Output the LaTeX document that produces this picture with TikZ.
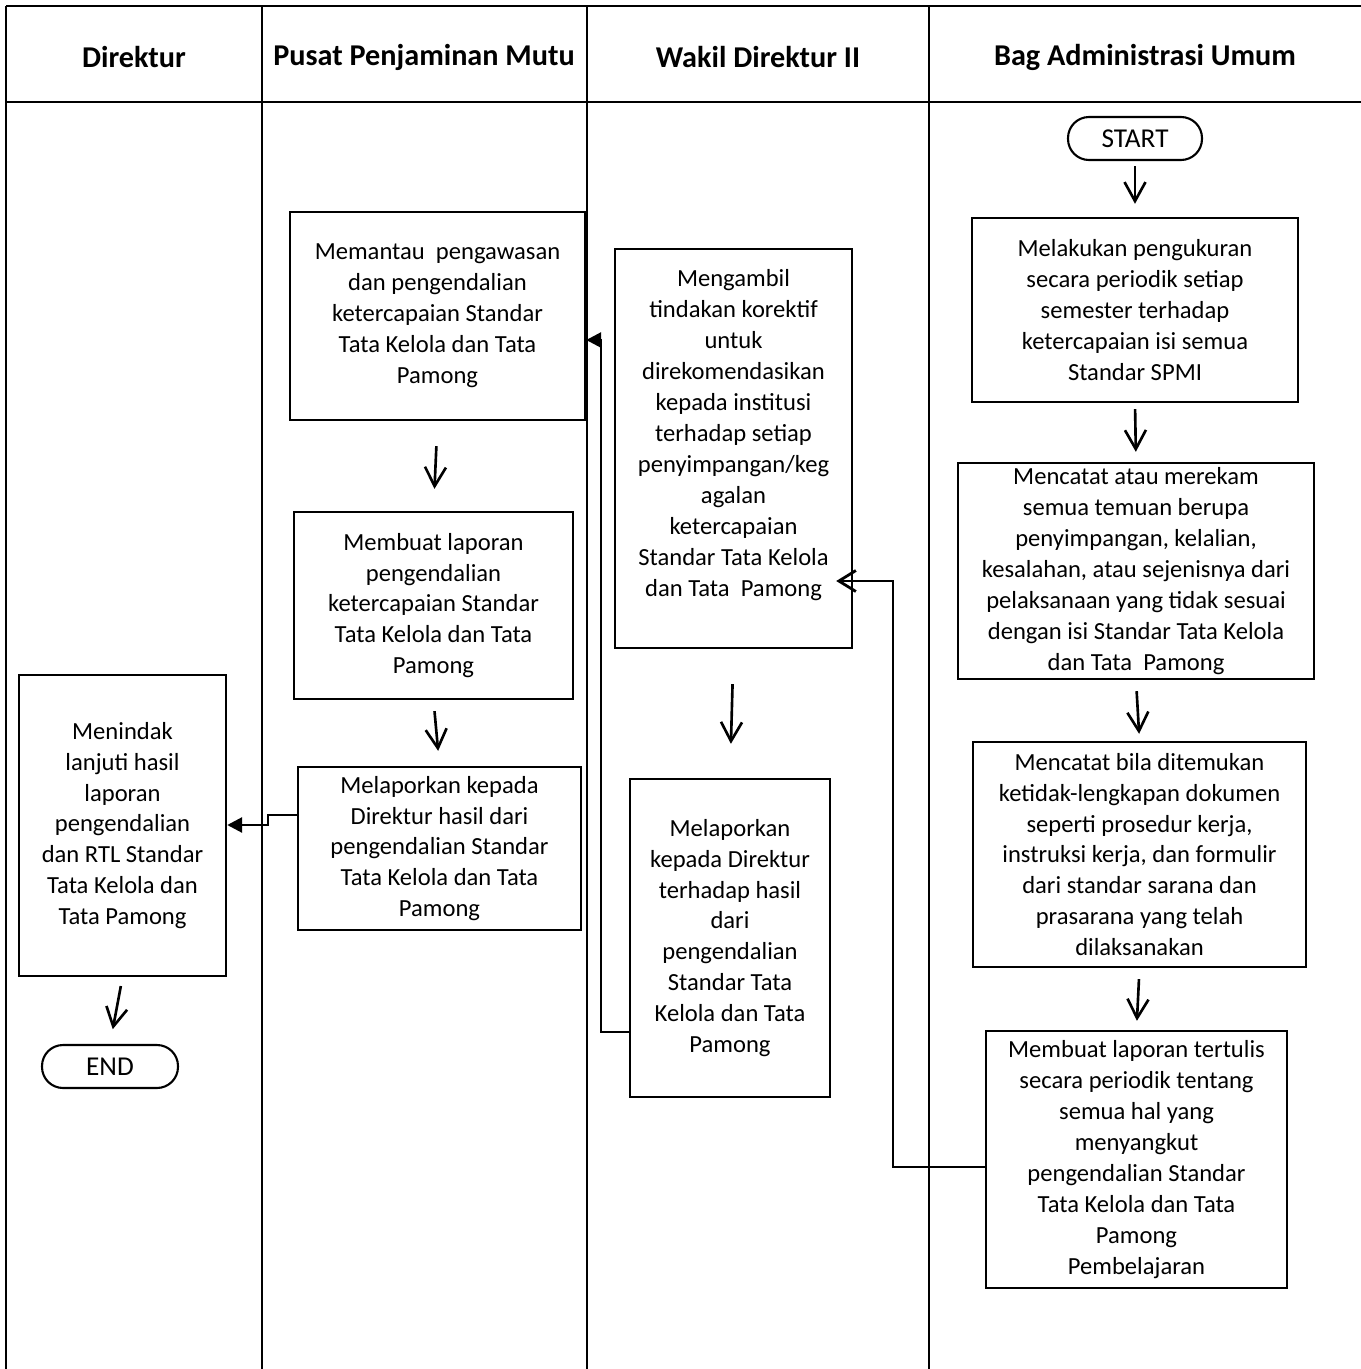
\documentclass[tikz,border=0pt]{standalone}
\usepackage{fontspec}
\setmainfont{Carlito}
\usepackage{tikz}
\usetikzlibrary{arrows.meta,shapes}
\tikzstyle{lane}=[draw,line width=1.4pt]
\tikzstyle{lanehead}=[font=\bfseries\fontsize{17.2}{20}\selectfont]
\tikzstyle{process}=[draw,line width=1.4pt,align=center,inner sep=0pt,font=\fontsize{14}{17.6}\selectfont]
\tikzstyle{terminal}=[draw,line width=1.2pt,rounded corners=0.42cm,minimum height=0.86cm,inner sep=0pt,font=\fontsize{15.5}{18}\selectfont]
\tikzstyle{flow}=[draw,line width=1.5pt,-{Straight Barb[length=0.38cm,width=0.42cm]}]
\tikzstyle{link}=[draw,line width=1.6pt]

\begin{document}
\begin{tikzpicture}[x=0.02cm,y=-0.02cm]
    \useasboundingbox (0,0) rectangle (1361,1369);
    % First we draw the swimlanes
    \draw[lane] (6,6) -- (1361,6);
    \draw[lane] (6,102) -- (1361,102);
    \foreach \x in {6,262,587,929}
        \draw[lane] (\x,6) -- (\x,1369);
    \foreach \pos/\name/\txt in {{(134,57)/hdir/Direktur}, {(424,57)/hppm/Pusat Penjaminan Mutu},
        {(758,57)/hwk/Wakil Direktur II}, {(1145,57)/hbag/Bag Administrasi Umum}}
        \node[lanehead] (\name) at \pos {\txt};
    % Bag Administrasi Umum
    \node[terminal, minimum width=2.68cm] (start) at (1135,138.5) {START};
    \node[process, minimum width=6.52cm, minimum height=3.68cm] (bag1) at (1135,310)
        {Melakukan pengukuran\\secara periodik setiap\\semester terhadap\\ketercapaian isi semua\\Standar SPMI};
    \node[process, minimum width=7.12cm, minimum height=4.32cm] (bag2) at (1136,571)
        {Mencatat atau merekam\\semua temuan berupa\\penyimpangan, kelalian,\\kesalahan, atau sejenisnya dari\\pelaksanaan yang tidak sesuai\\dengan isi Standar Tata Kelola\\dan Tata\ \ Pamong};
    \node[process, minimum width=6.66cm, minimum height=4.5cm] (bag3) at (1139.5,854.5)
        {Mencatat bila ditemukan\\ketidak-lengkapan dokumen\\seperti prosedur kerja,\\instruksi kerja, dan formulir\\dari standar sarana dan\\prasarana yang telah\\dilaksanakan};
    \node[process, minimum width=6.02cm, minimum height=5.14cm] (bag4) at (1136.5,1159.5)
        {Membuat laporan tertulis\\secara periodik tentang\\semua hal yang\\menyangkut\\pengendalian Standar\\Tata Kelola dan Tata\\Pamong\\Pembelajaran};
    % Wakil Direktur II
    \node[process, minimum width=4.74cm, minimum height=7.98cm] (wk1) at (733.5,448.5)
        {Mengambil\\tindakan korektif\\untuk\\direkomendasikan\\kepada institusi\\terhadap setiap\\penyimpangan/keg\\agalan\\ketercapaian\\Standar Tata Kelola\\dan Tata\ \ Pamong\\ \mbox{}};
    \node[process, minimum width=4cm, minimum height=6.36cm] (wk2) at (730,938)
        {Melaporkan\\kepada Direktur\\terhadap hasil\\dari\\pengendalian\\Standar Tata\\Kelola dan Tata\\Pamong};
    % Pusat Penjaminan Mutu
    \node[process, minimum width=5.9cm, minimum height=4.16cm] (ppm1) at (437.5,316)
        {Memantau\ \ pengawasan\\dan pengendalian\\ketercapaian Standar\\Tata Kelola dan Tata\\Pamong};
    \node[process, minimum width=5.58cm, minimum height=3.74cm] (ppm2) at (433.5,605.5)
        {Membuat laporan\\pengendalian\\ketercapaian Standar\\Tata Kelola dan Tata\\Pamong};
    \node[process, minimum width=5.66cm, minimum height=3.26cm] (ppm3) at (439.5,848.5)
        {Melaporkan kepada\\Direktur hasil dari\\pengendalian Standar\\Tata Kelola dan Tata\\Pamong};
    % Direktur
    \node[process, minimum width=4.14cm, minimum height=6.02cm] (dir1) at (122.5,825.5)
        {Menindak\\lanjuti hasil\\laporan\\pengendalian\\dan RTL Standar\\Tata Kelola dan\\Tata Pamong};
    \node[terminal, minimum width=2.72cm] (end) at (110,1066.5) {END};
    % Then the arrows inside each lane
    \foreach \source/\dest/\sa/\sb in {start/bag1/0.1/0.26, bag1/bag2/0.12/0.2, bag2/bag3/0.22/0.14,
        bag3/bag4/0.22/0.18, ppm1/ppm2/0.5/0.44, ppm2/ppm3/0.22/0.3, wk1/wk2/0.7/0.68, dir1/end/0.18/0.3}
        \path[flow, shorten <=\sa cm, shorten >=\sb cm] (\source.south) -- (\dest.north);
    % Connect the lanes
    \coordinate (k1) at (893,1167);
    \coordinate (k2) at (893,581);
    \path[link, -{Straight Barb[length=0.34cm,width=0.42cm]}, shorten >=-0.34cm]
        (bag4.west |- k1) -- (k1) -- (k2) -- (wk1.east |- k2);
    \coordinate (k3) at (601,1032);
    \coordinate (k4) at (601,340);
    \path[link, -{Triangle[length=0.3cm,width=0.3cm]}] (wk2.west |- k3) -- (k3) -- (k4) -- (ppm1.east |- k4);
    \coordinate (k5) at (268,815);
    \coordinate (k6) at (268,825);
    \path[link, -{Triangle[length=0.3cm,width=0.3cm]}] (ppm3.west |- k5) -- (k5) -- (k6) -- (dir1.east |- k6);
\end{tikzpicture}
\end{document}
